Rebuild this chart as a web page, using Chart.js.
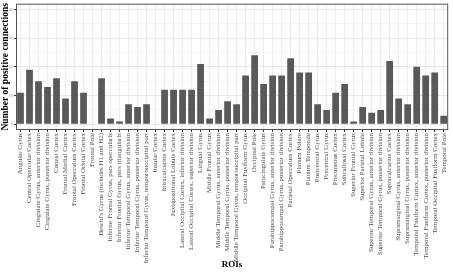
<!DOCTYPE html>
<html>
<head>
<meta charset="utf-8">
<script src="https://cdn.jsdelivr.net/npm/chart.js@4.4.0/dist/chart.umd.min.js"></script>
<style>
  html, body { margin: 0; padding: 0; background: #ffffff; }
  #wrap { width: 453px; height: 272px; }
</style>
</head>
<body>
<div id="wrap"><canvas id="roiChart" width="453" height="272"></canvas></div>
<script>
// ROI names along the x axis
const rois = [
    'Angular Gyrus',
    'Central Opercular Cortex',
    'Cingulate Gyrus, anterior division',
    'Cingulate Gyrus, posterior division',
    'Cuneal Cortex',
    'Frontal Medial Cortex',
    'Frontal Operculum Cortex',
    'Frontal Orbital Cortex',
    'Frontal Pole',
    "Heschl's Gyrus (includes H1 and H2)",
    'Inferior Frontal Gyrus, pars opercularis',
    'Inferior Frontal Gyrus, pars triangularis',
    'Inferior Temporal Gyrus, anterior division',
    'Inferior Temporal Gyrus, posterior division',
    'Inferior Temporal Gyrus, temporooccipital part',
    'Insular Cortex',
    'Intracalcarine Cortex',
    'Juxtapositional Lobule Cortex',
    'Lateral Occipital Cortex, inferior division',
    'Lateral Occipital Cortex, superior division',
    'Lingual Gyrus',
    'Middle Frontal Gyrus',
    'Middle Temporal Gyrus, anterior division',
    'Middle Temporal Gyrus, posterior division',
    'Middle Temporal Gyrus, temporooccipital part',
    'Occipital Fusiform Gyrus',
    'Occipital Pole',
    'Paracingulate Gyrus',
    'Parahippocampal Gyrus, anterior division',
    'Parahippocampal Gyrus, posterior division',
    'Parietal Operculum Cortex',
    'Planum Polare',
    'Planum Temporale',
    'Postcentral Gyrus',
    'Precentral Gyrus',
    'Precuneous Cortex',
    'Subcallosal Cortex',
    'Superior Frontal Gyrus',
    'Superior Parietal Lobule',
    'Superior Temporal Gyrus, anterior division',
    'Superior Temporal Gyrus, posterior division',
    'Supracalcarine Cortex',
    'Supramarginal Gyrus, anterior division',
    'Supramarginal Gyrus, posterior division',
    'Temporal Fusiform Cortex, anterior division',
    'Temporal Fusiform Cortex, posterior division',
    'Temporal Occipital Fusiform Cortex',
    'Temporal Pole'
];

// number of positive connections per ROI
const positiveConnections = [
    11, 19, 15, 13, 16, 9, 15, 11, 0, 16,
    2, 1, 7, 6, 7, 0, 12, 12, 12, 12,
    21, 2, 5, 8, 7, 17, 24, 14, 17, 17,
    23, 18, 18, 7, 5, 11, 14, 1, 6, 4,
    5, 22, 9, 7, 20, 17, 18, 3
];

// y axis: labelled ticks and minor grid lines
const yMajorTicks = [0, 10, 20, 30, 40];
const yMinorTicks = [5, 15, 25, 35];

const serif = "'Liberation Serif', 'DejaVu Serif', serif";

// ggplot-like panel border
const panelBorder = {
    id: 'panelBorder',
    afterDatasetsDraw(chart) {
        const a = chart.chartArea;
        const c = chart.ctx;
        c.save();
        c.strokeStyle = '#555555';
        c.lineWidth = 1;
        c.strokeRect(a.left + 0.5, a.top + 0.5, a.right - a.left - 1, a.bottom - a.top - 1);
        c.restore();
    }
};

const ctx = document.getElementById('roiChart').getContext('2d');
new Chart(ctx, {
    type: 'bar',
    data: {
        labels: rois,
        datasets: [{
            label: 'Number of positive connections',
            data: positiveConnections,
            backgroundColor: '#595959',
            borderWidth: 0,
            barPercentage: 0.75,
            categoryPercentage: 1.0
        }]
    },
    options: {
        responsive: false,
        animation: false,
        layout: { padding: { top: 2, right: 2, left: 0, bottom: 0 } },
        plugins: {
            legend: { display: false },
            tooltip: { enabled: false }
        },
        scales: {
            x: {
                afterFit(scale) { scale.height = 142; },
                grid: {
                    offset: false,
                    color: '#ebebeb',
                    tickColor: '#333333',
                    tickLength: 2
                },
                border: { display: false },
                ticks: {
                    autoSkip: false,
                    minRotation: 90,
                    maxRotation: 90,
                    padding: 1,
                    color: '#4d4d4d',
                    font: { family: serif, size: 6.9 }
                },
                title: {
                    display: true,
                    text: 'ROIs',
                    color: '#000000',
                    padding: { top: 0, bottom: 2 },
                    font: { family: serif, size: 9, weight: 'bold' }
                }
            },
            y: {
                min: -2,
                max: 42,
                afterFit(scale) { scale.width = 16; },
                afterBuildTicks(scale) {
                    scale.ticks = yMajorTicks.concat(yMinorTicks)
                        .sort((a, b) => a - b)
                        .map(v => ({ value: v }));
                },
                grid: {
                    color: c => (yMajorTicks.includes(c.tick.value) ? '#e6e6e6' : '#f3f3f3'),
                    tickColor: c => (yMajorTicks.includes(c.tick.value) ? '#333333' : 'rgba(0,0,0,0)'),
                    tickLength: 2
                },
                border: { display: false },
                ticks: {
                    autoSkip: false,
                    padding: 1,
                    color: '#999999',
                    font: { family: serif, size: 4.5 },
                    callback: v => (yMajorTicks.includes(v) ? String(v) : '')
                },
                title: {
                    display: true,
                    text: 'Number of positive connections',
                    color: '#000000',
                    padding: { top: 0, bottom: 0 },
                    font: { family: serif, size: 9.5, weight: 'bold' }
                }
            }
        }
    },
    plugins: [panelBorder]
});
</script>
</body>
</html>
